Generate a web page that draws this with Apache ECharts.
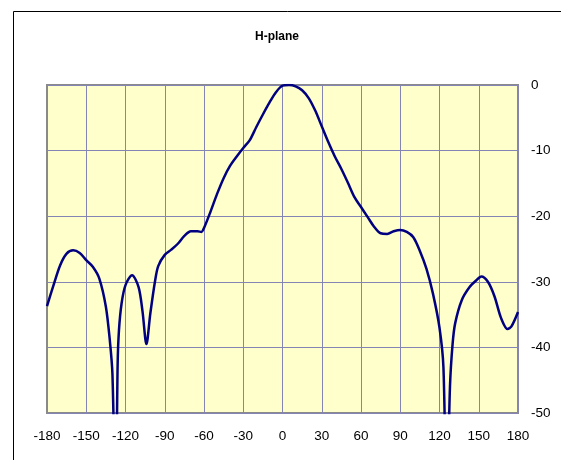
<!DOCTYPE html>
<html>
<head>
<meta charset="utf-8">
<script src="https://cdn.jsdelivr.net/npm/echarts@6/dist/echarts.min.js"></script>
<style>
  html, body { margin: 0; padding: 0; background: #fff; }
  #chart { width: 561px; height: 460px; }
</style>
</head>
<body>
<div id="chart"></div>
<script>
  // angle in degrees, gain in dB
  const angles = [
    -180, -175, -170, -165, -160, -155, -150, -145, -140, -135, -132, -130, -127.5, -126, -125, -123, -120,
    -115, -110, -107, -104, -101, -97.5, -95, -90, -85, -80, -75, -70, -65, -62, -60, -55, -50, -45, -40,
    -35, -30, -25, -20, -15, -10, -5, 0, 5, 10, 15, 20, 25, 30, 35, 40, 45, 50, 55, 60, 65, 70, 75, 80,
    85, 90, 95, 100, 105, 110, 115, 120, 123, 125.5, 128, 130, 132, 137, 143, 148, 152, 157, 162, 167,
    172, 175, 180,
  ];
  const gains = [
    -33.7, -30.5, -27.5, -25.7, -25.2, -25.6, -26.7, -27.7, -29.5, -33.8, -38.9, -44, -65, -42.5, -37.4, -33.3, -30.5,
    -29.0, -30.8, -34.5, -39.5, -34.8, -30.0, -27.6, -25.9, -25.1, -24.2, -23.0, -22.3, -22.3, -22.4, -21.8, -19.3, -16.6, -14.2, -12.3,
    -10.9, -9.6, -8.4, -6.4, -4.5, -2.7, -1.1, -0.1, 0, -0.2, -0.8, -2.0, -3.9, -6.3, -8.7, -10.9, -12.8, -14.9, -17.1, -18.6, -20.1, -21.6, -22.6, -22.7,
    -22.3, -22.1, -22.4, -23.2, -25.3, -28.0, -31.8, -37.0, -43, -65, -46, -39.5, -36.3, -32.8, -30.8, -29.8, -29.2, -30.0, -32.2, -35.5,
    -37.2, -36.8, -34.6,
  ];
  const xTicks = { min: -180, max: 180, step: 30 };
  const yTicks = { min: -50, max: 0, step: 10 };

  const labelFont = { color: '#000', fontSize: 13.5, fontFamily: 'Liberation Sans, Arial, sans-serif' };
  const gridLine = { lineStyle: { color: '#8585b5', width: 1 } };

  const chart = echarts.init(document.getElementById('chart'), null, { renderer: 'canvas' });
  chart.setOption({
    animation: false,
    title: {
      text: 'H-plane',
      left: 272,
      top: 26,
      textAlign: 'center',
      textStyle: { fontSize: 12, fontWeight: 'bold', color: '#000', fontFamily: 'Liberation Sans, Arial, sans-serif' },
    },
    graphic: [{
      type: 'rect',
      silent: true,
      shape: { x: 13.5, y: 11.5, width: 700, height: 600 },
      style: { fill: 'none', stroke: '#000', lineWidth: 1 },
    }],
    grid: {
      left: 47, top: 85, width: 471, height: 328,
      show: true, backgroundColor: '#ffffcc', borderColor: '#8a8a8a', borderWidth: 2,
    },
    xAxis: {
      type: 'value',
      min: xTicks.min, max: xTicks.max, interval: xTicks.step,
      axisLine: { show: false }, axisTick: { show: false },
      axisLabel: { ...labelFont, margin: 16 },
      splitLine: gridLine,
    },
    yAxis: {
      type: 'value',
      position: 'right',
      min: yTicks.min, max: yTicks.max, interval: yTicks.step,
      axisLine: { show: false }, axisTick: { show: false },
      axisLabel: { ...labelFont, margin: 13 },
      splitLine: gridLine,
    },
    series: [{
      type: 'line',
      data: angles.map((a, i) => [a, gains[i]]),
      smooth: 0.3,
      showSymbol: false,
      clip: true,
      lineStyle: { color: '#000080', width: 2.5 },
    }],
  });
</script>
</body>
</html>
